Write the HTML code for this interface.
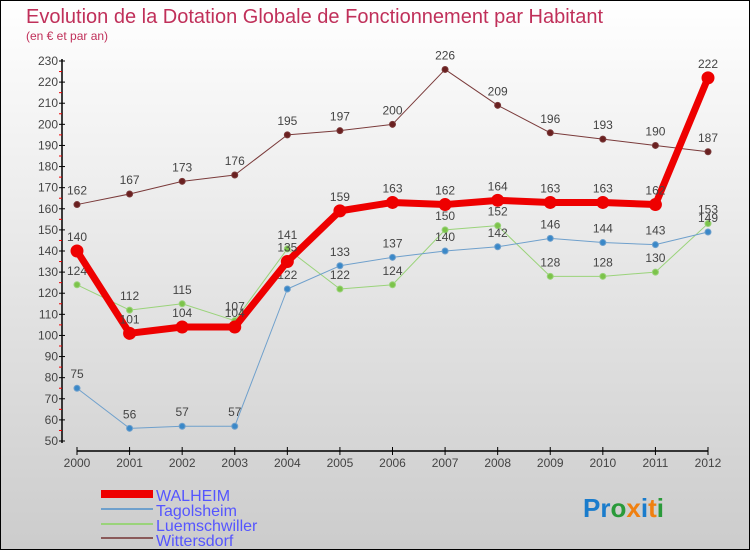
<!DOCTYPE html>
<html><head><meta charset="utf-8"><style>
body{margin:0}
#c{width:748px;height:548px;border:1px solid #000;background:linear-gradient(#fff,#ccc);position:relative;font-family:"Liberation Sans",sans-serif;overflow:hidden}
</style></head><body>
<div id="c">
<svg id="s" width="748" height="548" xmlns="http://www.w3.org/2000/svg" style="position:absolute;left:0;top:0">
<text x="25" y="22" font-size="20" fill="#c0305a">Evolution de la Dotation Globale de Fonctionnement par Habitant</text>
<text x="25" y="39" font-size="12" fill="#c0305a">(en € et par an)</text>
<g id="axes"></g><g id="series"></g>
<g>
<rect x="100" y="489" width="52" height="8" fill="#e00"/>
<text x="155" y="500" font-size="16" fill="#55f">WALHEIM</text>
<rect x="100" y="507" width="52" height="2" fill="#6fa0cc"/>
<text x="155" y="515" font-size="16" fill="#55f">Tagolsheim</text>
<rect x="100" y="522" width="52" height="2" fill="#9ad37a"/>
<text x="155" y="530" font-size="16" fill="#55f">Luemschwiller</text>
<rect x="100" y="536" width="52" height="2" fill="#8a5a5a"/>
<text x="155" y="545" font-size="16" fill="#55f">Wittersdorf</text>
</g>
<text x="582" y="516" font-size="26" font-weight="bold"><tspan fill="#1a7ccc">Pr</tspan><tspan fill="#2a9a3a">o</tspan><tspan fill="#f08010">x</tspan><tspan fill="#1a7ccc">i</tspan><tspan fill="#f08010">t</tspan><tspan fill="#2a9a3a">i</tspan></text>
</svg>
</div>
<script>
const years=[2000,2001,2002,2003,2004,2005,2006,2007,2008,2009,2010,2011,2012];
const walheim=[140,101,104,104,135,159,163,162,164,163,163,162,222];
const tagolsheim=[75,56,57,57,122,133,137,140,142,146,144,143,149];
const luemschwiller=[124,112,115,107,141,122,124,150,152,128,128,130,153];
const wittersdorf=[162,167,173,176,195,197,200,226,209,196,193,190,187];
const yTicks=[50,60,70,80,90,100,110,120,130,140,150,160,170,180,190,200,210,220,230];
const NS="http://www.w3.org/2000/svg";
const X=i=>76+i*(707-76)/(years.length-1);
const Y=v=>440-(v-50)*(380/180);
function mk(t,a,p){const e=document.createElementNS(NS,t);for(const k in a)e.setAttribute(k,a[k]);p.appendChild(e);return e;}
const ax=document.getElementById('axes');
const ya=mk('line',{x1:61,y1:58,x2:61,y2:442,stroke:'#000','stroke-width':1.5},ax);


yTicks.forEach(v=>{
 mk('line',{x1:58,y1:Y(v),x2:64,y2:Y(v),stroke:'#000'},ax);
 if(v<230)mk('line',{x1:58,y1:Y(v+5),x2:61,y2:Y(v+5),stroke:'#e00'},ax);
 const t=mk('text',{x:57,y:Y(v)+4,'font-size':12,'text-anchor':'end',fill:'#444'},ax);t.textContent=v;
 
 
});
const xa=mk('line',{x1:76,y1:450,x2:707,y2:450,stroke:'#000','stroke-width':1.5},ax);


years.forEach((y,i)=>{
 mk('line',{x1:X(i),y1:446,x2:X(i),y2:454,stroke:'#000'},ax);
 const t=mk('text',{x:X(i),y:466,'font-size':12,'text-anchor':'middle',fill:'#444'},ax);t.textContent=y;
 
 
});
const sg=document.getElementById('series');
function series(name,data,color,w,r,dot){
 const g=mk('g',{},sg);
 
 
 mk('polyline',{points:data.map((v,i)=>X(i)+','+Y(v)).join(' '),fill:'none',stroke:color,'stroke-width':w,'stroke-linejoin':'round'},g);
 data.forEach((v,i)=>{
  const c=mk('circle',{cx:X(i),cy:Y(v),r:r,fill:dot,stroke:color},g);
  
  
  const t=mk('text',{x:X(i),y:Y(v)-10,'font-size':12,'text-anchor':'middle',fill:'#444'},g);t.textContent=v;
  
  
 });
}
series('wittersdorf',wittersdorf,'#7a3a3a',1,3,'#6a2020');
series('luemschwiller',luemschwiller,'#9ad37a',1,3,'#7cc34a');
series('tagolsheim',tagolsheim,'#6fa0cc',1,3,'#3a88c8');
series('walheim',walheim,'#e00',7,6,'#e00');
</script>
</body></html>
